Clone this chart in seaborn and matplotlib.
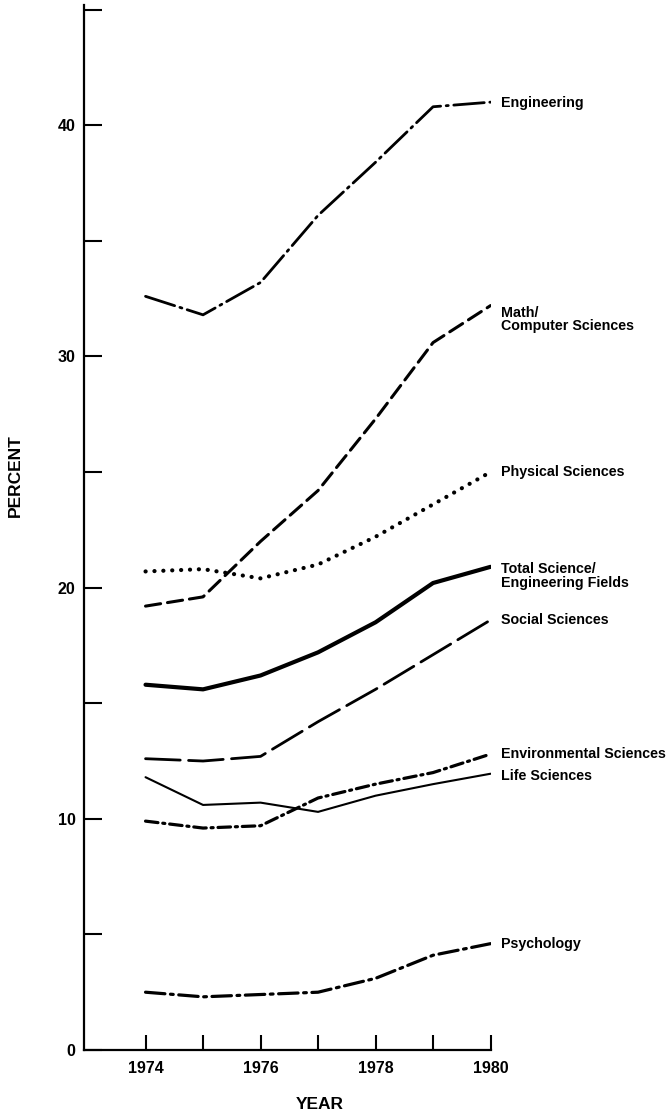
#!/usr/bin/env python3

import pandas as pd
import matplotlib
matplotlib.use("Agg")
import matplotlib.pyplot as plt
import seaborn as sns

# Data (percent, 1974-1980)
years = [1974, 1975, 1976, 1977, 1978, 1979, 1980]
engineering = [32.6, 31.8, 33.2, 36.1, 38.4, 40.8, 41.0]
math_cs = [19.2, 19.6, 22.0, 24.2, 27.3, 30.6, 32.2]
physical = [20.7, 20.8, 20.4, 21.0, 22.2, 23.6, 25.0]
total = [15.8, 15.6, 16.2, 17.2, 18.5, 20.2, 20.9]
social = [12.6, 12.5, 12.7, 14.2, 15.6, 17.1, 18.6]
environmental = [9.9, 9.6, 9.7, 10.9, 11.5, 12.0, 12.8]
life = [11.8, 10.6, 10.7, 10.3, 11.0, 11.5, 11.95]
psychology = [2.5, 2.3, 2.4, 2.5, 3.1, 4.1, 4.6]

series_names = ["Engineering", "Math/\nComputer Sciences", "Physical Sciences",
                "Total Science/\nEngineering Fields", "Social Sciences",
                "Environmental Sciences", "Life Sciences", "Psychology"]
series_values = [engineering, math_cs, physical, total, social,
                 environmental, life, psychology]

# line style for each series: (linewidth, dash pattern in points)
styles = [
    (2.0, (0, (22, 4, 1.5, 4))),
    (2.2, (0, (11, 5))),
    (3.0, (0, (0.1, 6.3))),
    (3.0, "-"),
    (2.0, (0, (25, 6))),
    (2.3, (0, (9, 3.5, 1.5, 3.5))),
    (1.5, "-"),
    (2.3, (0, (14, 4, 2, 4))),
]

# where each right-hand label sits (data units)
label_y = [40.95, 32.2, 25.0, 21.1, 18.6, 12.8, 11.85, 4.6]

sns.set_style("white")
plt.rcParams["font.family"] = ["Liberation Sans", "DejaVu Sans"]
plt.rcParams["font.weight"] = "bold"
plt.rcParams["text.color"] = "black"
plt.rcParams["axes.labelcolor"] = "black"
plt.rcParams["xtick.color"] = "black"
plt.rcParams["ytick.color"] = "black"
plt.rcParams["lines.scale_dashes"] = False

fig = plt.figure(figsize=(6.72, 11.2), dpi=100)
ax = fig.add_axes([0.125, 0.0625, 0.605, 0.933])

for name, vals, (lw, ls) in zip(series_names, series_values, styles):
    df = pd.DataFrame({"Year": years, "Percent": vals})
    sns.lineplot(data=df, x="Year", y="Percent", ax=ax, color="black",
                 linewidth=lw, linestyle=ls, dash_capstyle="round",
                 solid_capstyle="round", legend=False)

for name, y in zip(series_names, label_y):
    ax.annotate(name, xy=(1980, y), xytext=(7.5, 0), textcoords="offset points",
                ha="left", va="top" if "\n" in name else "center",
                fontsize=10.3, fontweight="bold", linespacing=0.95,
                annotation_clip=False)

ax.set_xlim(1972.93, 1980)
ax.set_ylim(0, 45.2)
ax.set_xticks(years)
ax.set_xticklabels([str(y) if y % 2 == 0 else "" for y in years])
ax.set_yticks(range(0, 46, 5))
ax.set_yticklabels([str(v) if v % 10 == 0 and v <= 40 else "" for v in range(0, 46, 5)])

for side in ["top", "right"]:
    ax.spines[side].set_visible(False)
for side in ["left", "bottom"]:
    ax.spines[side].set_linewidth(1.6)
    ax.spines[side].set_color("black")

ax.tick_params(axis="y", left=True, direction="in", length=13, width=1.5,
               labelsize=11.5, pad=6)
ax.tick_params(axis="x", bottom=True, direction="in", length=11, width=1.5,
               labelsize=11.5, pad=8)
for lbl in ax.get_xticklabels() + ax.get_yticklabels():
    lbl.set_fontweight("bold")

ax.set_xlabel("YEAR", fontsize=12.5, fontweight="bold")
ax.xaxis.set_label_coords(0.58, -0.045)
ax.set_ylabel("PERCENT", fontsize=12.5, fontweight="bold")
ax.yaxis.set_label_coords(-0.15, 0.55)

fig.savefig("out.png", dpi=100)
